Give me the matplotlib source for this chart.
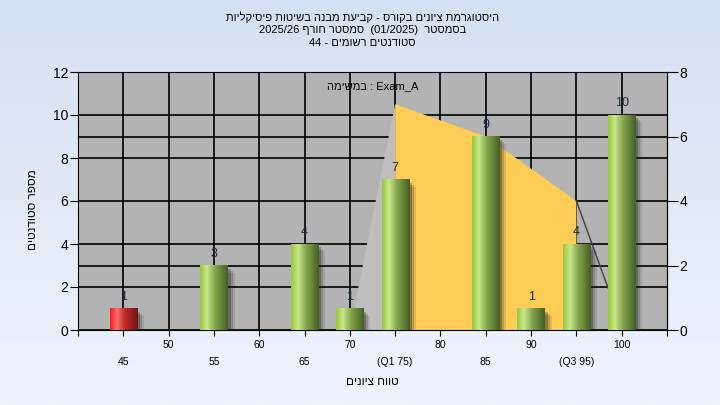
import numpy as np
import matplotlib
matplotlib.use("Agg")
import matplotlib.pyplot as plt
from matplotlib.patches import Rectangle
from matplotlib import transforms

plt.rcParams['font.family'] = ['Liberation Sans', 'DejaVu Sans']

# histogram data
bins = [45, 55, 65, 70, 75, 85, 90, 95, 100]
counts = [1, 3, 4, 1, 7, 9, 1, 4, 10]
fail_bins = [45]

# curve on the right axis (quartile area)
curve_x = [70, 75, 85, 95, 98.5]
curve_y = [0, 7, 6, 4, 1.3]

row1_ticks = [50, 60, 70, 80, 90, 100]
row2_ticks = [45, 55, 65, 75, 85, 95]
row2_labels = ['45', '55', '65', '(Q1 75)', '85', '(Q3 95)']

# Hebrew text written in visual (left-to-right) order
title1 = "היסטוגרמת ציונים בקורס - קביעת מבנה בשיטות פיסיקליות"[::-1]
title2 = "2025/26 " + "סמסטר חורף"[::-1] + "  (01/2025)  " + "בסמסטר"[::-1]
title3 = "44 - " + "סטודנטים רשומים"[::-1]
task_txt = "במשימה"[::-1] + " : Exam_A"
xlab = "טווח ציונים"[::-1]
ylab = "מספר סטודנטים"[::-1]

fig = plt.figure(figsize=(7.2, 4.05), dpi=100)

# light blue gradient background
bg = fig.add_axes([0, 0, 1, 1], zorder=-10)
grad = np.linspace(0, 1, 256)[:, None]
top = np.array([212, 225, 242]) / 255
bot = np.array([238, 244, 252]) / 255
img = top[None, None, :] * (1 - grad[:, :, None]) + bot[None, None, :] * grad[:, :, None]
bg.imshow(img, aspect='auto', extent=[0, 1, 0, 1])
bg.axis('off')

ax = fig.add_axes([78 / 720, 75 / 405, 589 / 720, 258 / 405])
ax.set_facecolor('#b3b3b3')
ax2 = ax.twinx()
ax2.patch.set_visible(False)

ax.set_xlim(40, 105)
ax.set_ylim(0, 12)
ax2.set_ylim(0, 8)

# grid
for v in np.arange(0, 13, 2):
    ax.axhline(v, color='black', lw=1.2, zorder=1)
for v in [2, 6]:
    ax.plot([40, 105], [v, v], color='black', lw=1.2, zorder=1, transform=ax2.transData)
for v in range(45, 105, 5):
    ax.axvline(v, color='black', lw=1.2, zorder=1)

# areas drawn on right scale
t2 = ax2.transData
ax.fill([curve_x[0], curve_x[1], curve_x[1]], [curve_y[0], curve_y[1], 0],
        color='#bebebe', zorder=2, transform=t2, lw=0)
ax.fill([curve_x[1]] + curve_x[1:4] + [curve_x[3]], [0] + curve_y[1:4] + [0],
        color='#ffcc55', zorder=2, transform=t2, lw=0)
ax.plot(curve_x[3:], curve_y[3:], color='#404040', lw=1, zorder=2, transform=t2)

# bars with cylinder gradient and shadow
w = 3.0
pos = np.linspace(0, 1, 60)
def ramp(stops):
    xs = [s[0] for s in stops]
    cols = np.array([s[1] for s in stops]) / 255
    return np.stack([np.interp(pos, xs, cols[:, i]) for i in range(3)], axis=-1)[None, :, :]

green = ramp([(0, (150, 200, 60)), (0.25, (200, 230, 140)), (0.55, (130, 165, 75)), (1, (70, 95, 35))])
red = ramp([(0, (240, 30, 30)), (0.25, (255, 110, 110)), (0.55, (190, 40, 40)), (1, (110, 20, 20))])

for b, c in zip(bins, counts):
    for k, a in [(7, 0.12), (5, 0.2), (3, 0.3)]:
        off = transforms.ScaledTranslation(k / 100, -k / 100, fig.dpi_scale_trans)
        ax.add_patch(Rectangle((b - w / 2, 0), w, c, color='#202020', alpha=a,
                               lw=0, zorder=3, transform=ax.transData + off))
    ax.imshow(red if b in fail_bins else green, aspect='auto',
              extent=[b - w / 2, b + w / 2, 0, c], zorder=4, interpolation='bilinear')
    ax.annotate(str(c), (b, c), xytext=(0, 4), textcoords='offset points',
                ha='center', va='bottom', fontsize=9, color='#1e2c40', zorder=5)

ax.set_xlim(40, 105)
ax.set_ylim(0, 12)

ax.set_xticks(range(40, 110, 5))
ax.set_xticklabels([])
ax.tick_params(axis='x', length=4, color='black')
ax.set_yticks(range(0, 13, 2))
ax.tick_params(axis='y', length=6, labelsize=10, pad=1)
ax2.set_yticks(range(0, 9, 2))
ax2.tick_params(axis='y', length=8, labelsize=10, pad=1)

xt = ax.get_xaxis_transform()
for v in row1_ticks:
    ax.text(v, -0.058, str(v), transform=xt, ha='center', va='center', fontsize=7.5)
for v, s in zip(row2_ticks, row2_labels):
    ax.text(v, -0.124, s, transform=xt, ha='center', va='center', fontsize=7.5)

ax.text(0.5, -0.2, xlab, transform=ax.transAxes, ha='center', va='center', fontsize=8.5)
fig.text(33 / 720, 1 - 210 / 405, ylab, rotation=90, ha='center', va='center', fontsize=8.5)

ax.text(373, 86, task_txt, transform=None, fontsize=8, ha='center', va='center')
ax.texts[-1].set_transform(transforms.IdentityTransform())
ax.texts[-1].set_position((373, 405 - 86))

fig.text(0.503, 1 - 17 / 405, title1, ha='center', va='center', fontsize=8)
fig.text(0.503, 1 - 30 / 405, title2, ha='center', va='center', fontsize=8)
fig.text(0.503, 1 - 43 / 405, title3, ha='center', va='center', fontsize=8)

for s in ax.spines.values():
    s.set_color('black')
for s in ax2.spines.values():
    s.set_visible(False)
ax2.spines['right'].set_visible(True)

fig.savefig('out.png', dpi=100)
